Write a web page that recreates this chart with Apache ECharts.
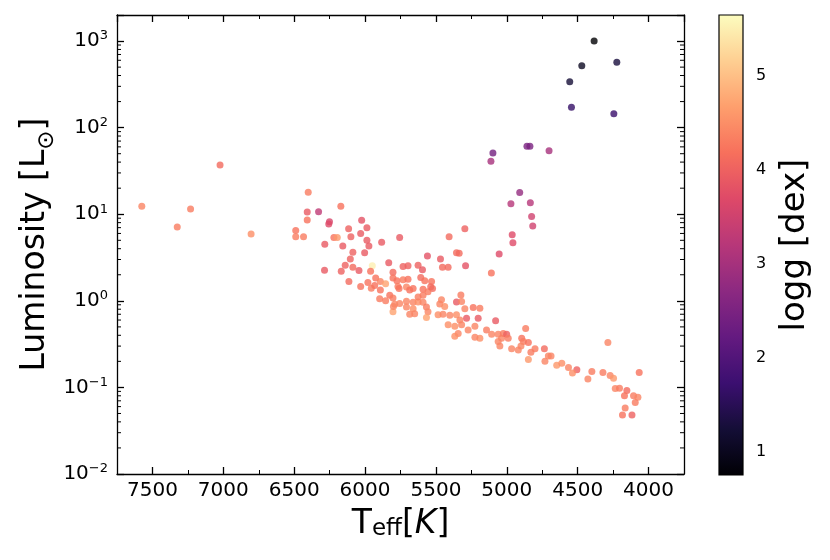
<!DOCTYPE html>
<html>
<head>
<meta charset="utf-8">
<script src="https://cdn.jsdelivr.net/npm/echarts@6/dist/echarts.min.js"></script>
<style>
  html, body { margin: 0; padding: 0; background: #fff; }
  #chart { width: 830px; height: 560px; }
</style>
</head>
<body>
<div id="chart"></div>
<script>
// effective temperature [K]
const teff = [
  7575, 7325, 7231, 7023, 6804, 6401, 6489, 6489, 6434, 6408, 6408, 6328, 6251, 6256, 6284,
  6220, 6196, 6171, 6157, 6116, 6100, 6024, 6031, 5987, 5987, 5973, 5883, 5756,
  4384, 4471, 4224, 4556, 4544, 4245, 5098, 5112, 4858, 4837, 4702, 4909, 4971, 4834, 4825, 4817, 4962, 4957,
  5296, 5407, 6086, 6003, 6104, 6140, 6086, 6043, 6168, 6286, 5949, 5961, 5833, 5560, 5732, 5697, 5626, 5595,
  5803, 6114, 6031, 5980, 5925, 5892, 5855, 5803, 5775, 5732, 5697, 5607, 5579, 5768, 5708, 5956,
  5054, 5355, 5336, 5468, 5291, 5454, 5414, 5109, 5531, 5524,
  5932, 5892, 5826, 5803, 5760, 5685, 5661, 5591, 5556, 5537, 5897, 5791, 5756, 5708, 5661, 5626, 5591, 5567,
  5708, 5661, 5803, 5685, 5650, 5556, 5567, 5591, 5626,
  5461, 5473, 5438, 5355, 5324, 5319, 5296, 5237, 5190, 5485, 5450, 5402, 5355, 5331, 5284, 5202, 5079,
  5414, 5367, 5319, 5225, 5273, 5143, 5107, 5061, 5037, 5190, 5225, 5343, 5367, 5025,
  4867, 5061, 5049, 5001, 4990, 4895, 4883, 4848, 4900, 4966, 4919, 4801, 4830, 4735, 4707, 4688, 4848,
  4731, 4648, 4612, 4565, 4506, 4537, 4400,
  4287, 4428, 4322, 4271, 4247, 4066, 4235, 4205, 4153, 4170, 4106, 4075, 4094, 4165, 4184, 4117,
  5855, 5800
]
// luminosity [L_sun]
const lum = [
  12.4, 7.1, 11.5, 37, 5.9, 18, 6.5, 5.5, 5.5, 10.6, 8.6, 10.7, 8.2, 7.7, 4.5,
  5.4, 5.4, 12.4, 4.3, 6.8, 5.5, 8.5, 6.0, 7.0, 5.0, 4.3, 4.75, 5.4,
  1000, 519, 568, 339, 172, 145, 51, 41, 61, 61, 54, 17.8, 13.2, 13.6, 9.4, 7.3, 5.8, 4.7,
  6.8, 5.5, 3.65, 3.58, 3.05, 2.58, 2.45, 2.24, 2.2, 2.26, 2.54, 2.2, 2.75, 3.3, 2.49, 2.54, 2.58, 2.28,
  2.14, 1.67, 1.46, 1.63, 1.83, 1.67, 1.57, 1.83, 1.71, 1.75, 1.78, 1.86, 1.71, 1.46, 1.44, 1.40,
  3.48, 3.6, 3.55, 3.05, 2.55, 2.45, 2.45, 2.09, 1.67, 1.39,
  1.50, 1.33, 1.16, 1.08, 1.39, 1.33, 1.39, 1.36, 1.27, 1.45, 1.06, 0.91, 0.93, 0.99, 0.96, 0.97, 0.96, 0.85,
  0.85, 0.81, 0.75, 0.70, 0.71, 0.75, 0.64, 1.16, 1.11,
  1.03, 0.92, 0.86, 0.97, 1.17, 0.98, 0.81, 0.84, 0.82, 0.69, 0.70, 0.68, 0.69, 0.60, 0.63, 0.63, 0.59,
  0.53, 0.51, 0.53, 0.51, 0.46, 0.46, 0.41, 0.41, 0.37, 0.37, 0.38, 0.42, 0.39, 0.42,
  0.48, 0.34, 0.30, 0.41, 0.37, 0.37, 0.34, 0.33, 0.30, 0.28, 0.27, 0.28, 0.255, 0.28, 0.23, 0.23, 0.21,
  0.20, 0.18, 0.19, 0.17, 0.16, 0.147, 0.153,
  0.33, 0.125, 0.149, 0.137, 0.128, 0.149, 0.097, 0.098, 0.092, 0.080, 0.080, 0.077, 0.067, 0.058, 0.048, 0.048,
  1.0, 0.86
]
// surface gravity logg [dex]
const logg = [
  4.4, 4.3, 4.3, 4.1, 4.5, 4.3, 4.2, 4.3, 4.3, 3.9, 4.2, 3.3, 3.6, 3.7, 3.9,
  4.2, 4.6, 4.2, 3.9, 4.0, 4.0, 3.8, 3.9, 3.9, 3.9, 3.9, 3.9, 3.9,
  0.75, 1.05, 1.3, 1.25, 1.65, 1.7, 2.4, 3.0, 2.5, 2.5, 3.0, 2.8, 3.2, 3.2, 3.5, 3.5, 3.7, 3.7,
  4.0, 4.1, 4.0, 3.9, 4.0, 4.0, 4.1, 3.9, 4.0, 3.9, 5.5, 4.2, 3.9, 3.8, 4.0, 4.0, 4.0, 3.9,
  4.1, 4.1, 4.2, 4.2, 4.2, 4.4, 4.7, 4.2, 4.2, 4.3, 4.2, 4.1, 4.2, 4.3, 4.4, 4.3,
  3.7, 4.1, 4.1, 3.9, 3.8, 4.1, 4.1, 4.2, 4.2, 4.1,
  4.2, 4.2, 4.2, 4.3, 4.2, 4.2, 4.2, 4.2, 4.3, 4.1, 4.3, 4.4, 4.4, 4.4, 4.4, 4.5, 4.4, 4.3,
  4.4, 4.5, 4.7, 4.4, 4.4, 4.4, 4.7, 4.3, 4.3,
  4.4, 4.4, 4.5, 3.9, 4.3, 4.4, 4.4, 4.2, 4.3, 4.5, 4.4, 4.4, 4.5, 4.4, 3.9, 3.9, 3.9,
  4.5, 4.5, 4.4, 4.4, 4.4, 4.3, 4.4, 4.4, 4.4, 4.5, 4.4, 4.4, 4.5, 4.3,
  4.3, 4.4, 4.4, 4.0, 4.3, 4.2, 4.3, 4.2, 4.4, 4.4, 4.4, 4.3, 4.3, 4.1, 4.4, 4.4, 4.6,
  4.4, 4.6, 4.5, 4.4, 4.0, 4.5, 4.3,
  4.4, 4.4, 4.3, 4.4, 4.6, 4.2, 4.4, 4.3, 4.1, 4.2, 4.3, 4.4, 4.3, 4.3, 4.2, 4.0,
  4.3, 4.4
]

const cbMin = 0.752
const cbMax = 5.645
const magma = ['#000004', '#140e36', '#3b0f70', '#641a80', '#8c2981', '#b73779',
  '#de4968', '#f7705c', '#fe9f6d', '#fecf92', '#fcfdbf']

// minor ticks of the log axis: 2..9 x 10^n
const yMinor = []
for (const d of [0.01, 0.1, 1, 10, 100, 1000]) {
  for (let k = 2; k <= 9; k++) {
    const v = +(d * k).toPrecision(3)
    if (v < 2000) yMinor.push(v)
  }
}

const font = 'DejaVu Sans'
const points = teff.map((t, i) => [t, lum[i], logg[i]])

const supDigits = v => {
  const e = Math.round(Math.log10(v))
  if (Math.abs(Math.log10(v) - e) > 1e-6) return ''
  const s = e < 0 ? '\u2212' + (-e) : String(e)
  return '{b|10}{s|' + s + '}'
}

const frameLine = { show: true, onZero: false, lineStyle: { color: '#000', width: 1.3 } }
const majorTick = { show: true, inside: true, length: 7, lineStyle: { color: '#000', width: 1.3 } }
const minorX = (position) => ({
  gridIndex: 0, type: 'value', inverse: true, position, min: 3750, max: 7750, interval: 250,
  axisLine: { show: false },
  axisTick: { show: true, inside: true, length: 4, lineStyle: { color: '#000', width: 1 } },
  splitLine: { show: false }, axisLabel: { show: false }
})

const chart = echarts.init(document.getElementById('chart'))
const option = {
  animation: false,
  textStyle: { fontFamily: font },
  grid: [
    { left: 117, top: 15, width: 567, height: 459 },
    { left: 719, top: 15, width: 24, height: 460 }
  ],
  visualMap: {
    show: false,
    type: 'continuous',
    seriesIndex: 0,
    dimension: 2,
    min: cbMin,
    max: cbMax,
    inRange: { color: magma }
  },
  xAxis: [
    {
      gridIndex: 0, type: 'value', inverse: true, min: 3750, max: 7750,
      splitNumber: 8, minInterval: 500, maxInterval: 500,
      axisLine: frameLine, axisTick: majorTick,
      splitLine: { show: false },
      axisLabel: {
        fontSize: 20, color: '#000', margin: 7, showMinLabel: false, showMaxLabel: false,
        formatter: v => String(v)
      },
      name: '{a|T}{sub|eff}{a|[}{i|K}{a|]}',
      nameLocation: 'middle', nameGap: 27,
      nameTextStyle: {
        rich: {
          a: { fontFamily: font, fontSize: 33, color: '#000', lineHeight: 40, verticalAlign: 'bottom' },
          sub: { fontFamily: font, fontSize: 23, color: '#000', lineHeight: 26, verticalAlign: 'bottom' },
          i: { fontFamily: font, fontSize: 33, fontStyle: 'italic', color: '#000', lineHeight: 40, verticalAlign: 'bottom' }
        }
      }
    },
    {
      gridIndex: 0, type: 'value', inverse: true, position: 'top', min: 3750, max: 7750,
      splitNumber: 8, minInterval: 500, maxInterval: 500,
      axisLine: frameLine, axisTick: majorTick,
      splitLine: { show: false }, axisLabel: { show: false }
    },
    { gridIndex: 1, type: 'value', min: 0, max: 1, show: false },
    minorX('bottom'),
    minorX('top')
  ],
  yAxis: [
    {
      gridIndex: 0, type: 'log', logBase: 10, min: 0.01, max: 2000,
      axisLine: frameLine, axisTick: majorTick,
      splitLine: { show: false }, minorTick: { show: false },
      axisLabel: {
        color: '#000', margin: 9, formatter: supDigits,
        rich: {
          b: { fontFamily: font, fontSize: 20, color: '#000', lineHeight: 23, verticalAlign: 'middle' },
          s: { fontFamily: font, fontSize: 13, color: '#000', lineHeight: 13, verticalAlign: 'top' }
        }
      },
      name: '{a|Luminosity [L}{sub|\u2299}{a|]}',
      nameLocation: 'middle', nameRotate: 90, nameGap: 58, nameMoveOverlap: false,
      nameTextStyle: {
        rich: {
          a: { fontFamily: font, fontSize: 33, color: '#000', lineHeight: 40, verticalAlign: 'top' },
          sub: { fontFamily: font, fontSize: 23, color: '#000', lineHeight: 26, verticalAlign: 'bottom' }
        }
      }
    },
    {
      gridIndex: 0, type: 'log', logBase: 10, min: 0.01, max: 2000, position: 'right',
      axisLine: frameLine, axisTick: majorTick,
      splitLine: { show: false }, minorTick: { show: false }, axisLabel: { show: false }
    },
    {
      gridIndex: 1, type: 'value', position: 'right', min: cbMin, max: cbMax,
      minInterval: 1, maxInterval: 1,
      axisLine: { show: false },
      axisTick: { show: true, inside: false, length: 6, lineStyle: { color: '#000', width: 1.3 } },
      splitLine: { show: false },
      axisLabel: { fontSize: 16, color: '#000', margin: 13, showMinLabel: false, showMaxLabel: false },
      name: 'logg [dex]',
      nameLocation: 'middle', nameRotate: 90, nameGap: 35,
      nameTextStyle: { fontFamily: font, fontSize: 34, color: '#000' }
    }
  ],
  series: [
    {
      type: 'scatter',
      xAxisIndex: 0, yAxisIndex: 0,
      symbolSize: 7,
      data: points,
      z: 3
    },
    {
      type: 'custom',
      xAxisIndex: 0, yAxisIndex: 0,
      silent: true,
      data: yMinor.map(v => [5000, v]),
      encode: { x: 0, y: 1 },
      renderItem: (params, api) => {
        const cs = params.coordSys
        const y = api.coord([5000, api.value(1)])[1]
        const st = { stroke: '#000', lineWidth: 1 }
        return {
          type: 'group',
          children: [
            { type: 'line', shape: { x1: cs.x, y1: y, x2: cs.x + 4, y2: y }, style: st },
            { type: 'line', shape: { x1: cs.x + cs.width - 4, y1: y, x2: cs.x + cs.width, y2: y }, style: st }
          ]
        }
      },
      z: 4
    },
    {
      type: 'custom',
      xAxisIndex: 2, yAxisIndex: 2,
      silent: true,
      data: [[0, cbMin]],
      renderItem: (params, api) => {
        const cs = params.coordSys
        const stops = magma.map((c, i) => ({ offset: i / (magma.length - 1), color: c }))
        return {
          type: 'rect',
          shape: { x: cs.x, y: cs.y, width: cs.width, height: cs.height },
          style: { fill: new echarts.graphic.LinearGradient(0, 1, 0, 0, stops), stroke: '#000', lineWidth: 1.2 }
        }
      }
    }
  ]
}
option && chart.setOption(option)
</script>
</body>
</html>
